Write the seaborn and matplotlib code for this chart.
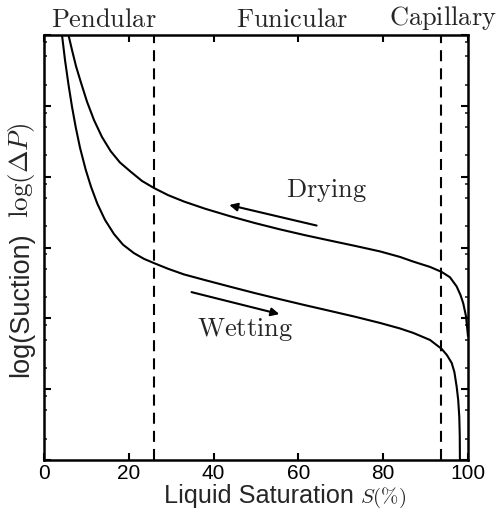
import numpy as np
import pandas as pd
import seaborn as sns
import matplotlib
matplotlib.use("Agg")
import matplotlib.pyplot as plt
from matplotlib.ticker import LogLocator, NullFormatter, FixedLocator

# ---- data (y values are log10 of suction) ----
drying_S = [5.78, 6.60, 7.55, 8.66, 10.14, 11.79, 13.68, 15.73, 17.92, 20.45, 23.11, 25.94,
            29.25, 33.02, 37.97, 43.87, 49.76, 55.66, 61.56, 67.45, 73.35, 79.25, 83.96,
            87.10, 91.04, 93.80, 95.75, 97.33, 98.23, 98.89, 99.53, 100.0]
drying_logP = [6.00, 5.79, 5.56, 5.34, 5.06, 4.80, 4.56, 4.36, 4.20, 4.07, 3.94, 3.84,
               3.74, 3.649, 3.548, 3.442, 3.345, 3.256, 3.174, 3.098, 3.023, 2.945, 2.867,
               2.801, 2.726, 2.655, 2.58, 2.45, 2.33, 2.21, 2.03, 1.75]
wetting_S = [4.25, 4.95, 5.78, 6.60, 7.48, 8.49, 9.83, 11.08, 12.57, 14.39, 16.51, 18.63,
             21.23, 23.58, 25.94, 29.25, 33.02, 37.97, 43.87, 49.76, 55.66, 61.56, 67.45,
             73.35, 79.25, 83.96, 87.10, 91.04, 93.80, 95.05, 96.16, 96.80, 97.33, 97.69,
             97.95, 98.06, 98.10]
wetting_logP = [6.00, 5.65, 5.30, 4.99, 4.70, 4.41, 4.10, 3.86, 3.62, 3.39, 3.19, 3.04,
                2.92, 2.84, 2.78, 2.70, 2.62, 2.540, 2.447, 2.356, 2.270, 2.186, 2.105,
                2.023, 1.935, 1.857, 1.794, 1.695, 1.568, 1.48, 1.37, 1.24, 1.035, 0.85,
                0.61, 0.35, 0.0]
regime_bounds = [26.0, 93.7]
regime_names = ["Pendular", "Funicular", "Capillary"]
regime_label_x = [14.2, 58.5, 94.0]
x_ticks = [0, 20, 40, 60, 80, 100]

df = pd.concat([
    pd.DataFrame({"S": drying_S, "P": 10.0 ** np.array(drying_logP), "branch": "Drying"}),
    pd.DataFrame({"S": wetting_S, "P": 10.0 ** np.array(wetting_logP), "branch": "Wetting"}),
], ignore_index=True)

sns.set_style("ticks")
plt.rcParams["font.family"] = ["Liberation Sans", "DejaVu Sans"]
plt.rcParams["mathtext.fontset"] = "cm"

fig = plt.figure(figsize=(4.97, 5.11), dpi=100)
ax = fig.add_axes([0.0885, 0.0998, 0.8531, 0.8317])

sns.lineplot(data=df, x="S", y="P", units="branch", estimator=None, sort=False,
             color="black", linewidth=1.5, ax=ax, legend=False)

for xb in regime_bounds:
    ax.axvline(xb, color="black", linewidth=1.5, linestyle=(0, (5.3, 3.4)))

ax.set_yscale("log")
ax.set_xlim(0, 100)
ax.set_ylim(1, 1e6)
ax.xaxis.set_major_locator(FixedLocator(x_ticks))
ax.set_xticklabels([str(t) for t in x_ticks], fontsize=15)
ax.yaxis.set_major_locator(LogLocator(base=10, numticks=10))
ax.yaxis.set_minor_locator(LogLocator(base=10, subs=(2.0, 5.0, 8.0), numticks=20))
ax.yaxis.set_major_formatter(NullFormatter())
ax.yaxis.set_minor_formatter(NullFormatter())
ax.tick_params(axis="both", which="major", direction="in", length=5, width=1.5,
               top=True, right=True, pad=3, colors="black")
ax.tick_params(axis="y", which="minor", direction="in", length=2.5, width=1.2,
               left=True, right=True)
for sp in ax.spines.values():
    sp.set_linewidth(1.8)
    sp.set_color("black")
ax.set_xlabel("")
ax.set_ylabel("")

# axis titles (sans part + serif math part, as in the reference)
ax.text(0.506, -0.101, "Liquid Saturation", transform=ax.transAxes, ha="center",
        va="baseline", fontsize=18.2)
ax.text(0.800, -0.101, r"$S(\%)$", transform=ax.transAxes, ha="center",
        va="baseline", fontsize=15)
ax.text(-0.038, 0.365, "log(Suction)", transform=ax.transAxes, ha="center",
        va="baseline", rotation=90, rotation_mode="anchor", fontsize=19.5)
ax.text(-0.038, 0.682, r"$\log(\Delta P)$", transform=ax.transAxes, ha="center",
        va="baseline", rotation=90, rotation_mode="anchor", fontsize=19.5)

for name, xl in zip(regime_names, regime_label_x):
    ax.text(xl, 1.006, r"$\mathrm{" + name + "}$", transform=ax.get_xaxis_transform(),
            ha="center", va="bottom", fontsize=19)

ax.annotate("", xy=(43.7, 10 ** 3.60), xytext=(64.3, 10 ** 3.31),
            arrowprops=dict(arrowstyle="-|>", color="black", lw=1.5, mutation_scale=12,
                            shrinkA=0, shrinkB=0))
ax.annotate("", xy=(55.5, 10 ** 2.06), xytext=(34.8, 10 ** 2.37),
            arrowprops=dict(arrowstyle="-|>", color="black", lw=1.5, mutation_scale=12,
                            shrinkA=0, shrinkB=0))
ax.text(66.7, 10 ** 3.81, r"$\mathrm{Drying}$", ha="center", va="center", fontsize=19)
ax.text(47.4, 10 ** 1.84, r"$\mathrm{Wetting}$", ha="center", va="center", fontsize=19)

fig.savefig("out.png", dpi=100)
